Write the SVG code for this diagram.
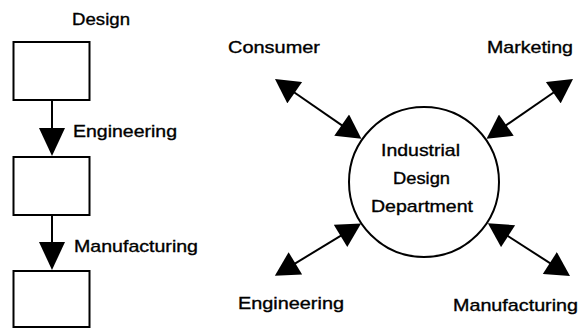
<svg xmlns="http://www.w3.org/2000/svg" width="581" height="329" viewBox="0 0 581 329">
  <style>
    .box { fill: #fff; stroke: #000; stroke-width: 2; }
    .hub { fill: #fff; stroke: #000; stroke-width: 2; }
    .lbl { font-family: "Liberation Sans", Arial, Helvetica, sans-serif; font-size: 17px; fill: #000; stroke: #000; stroke-width: 0.35; }
    .link { stroke: #000; stroke-width: 2; fill: none; }
  </style>
  <defs>
    <marker id="tri" markerUnits="userSpaceOnUse" markerWidth="26" markerHeight="26" viewBox="0 -13 24 26" refX="14" refY="0" orient="auto-start-reverse">
      <path d="M0,-13 L24,0 L0,13 Z" fill="#000"/>
    </marker>
    <marker id="triV" markerUnits="userSpaceOnUse" markerWidth="28" markerHeight="26" viewBox="0 -13 28 26" refX="18" refY="0" orient="auto">
      <path d="M0,-13 L28,0 L0,13 Z" fill="#000"/>
    </marker>
  </defs>

  <rect width="581" height="329" fill="#fff"/>

  <g id="connectors">
    <line class="link" x1="52" y1="100" x2="52" y2="146" marker-end="url(#triV)"/>
    <line class="link" x1="52" y1="215" x2="52" y2="260" marker-end="url(#triV)"/>
    <!-- Consumer -->
    <line class="link" x1="283.2" y1="84.7" x2="353.2" y2="133.1" marker-start="url(#tri)" marker-end="url(#tri)"/>
    <!-- Marketing -->
    <line class="link" x1="564.8" y1="84.7" x2="494.8" y2="133.1" marker-start="url(#tri)" marker-end="url(#tri)"/>
    <!-- Engineering -->
    <line class="link" x1="283.4" y1="270.6" x2="352.5" y2="228.6" marker-start="url(#tri)" marker-end="url(#tri)"/>
    <!-- Manufacturing -->
    <line class="link" x1="561.6" y1="270.6" x2="496.3" y2="228.6" marker-start="url(#tri)" marker-end="url(#tri)"/>
  </g>

  <g id="design-box">
    <text class="lbl" x="72" y="25" textLength="58" lengthAdjust="spacingAndGlyphs">Design</text>
    <rect class="box" x="13.5" y="42" width="76" height="58"/>
  </g>
  <g id="engineering-box">
    <text class="lbl" x="73" y="137" textLength="104" lengthAdjust="spacingAndGlyphs">Engineering</text>
    <rect class="box" x="13.5" y="157" width="76" height="58"/>
  </g>
  <g id="manufacturing-box">
    <text class="lbl" x="74" y="252" textLength="124" lengthAdjust="spacingAndGlyphs">Manufacturing</text>
    <rect class="box" x="13.5" y="271" width="76" height="56"/>
  </g>

  <g id="idd">
    <circle class="hub" cx="424" cy="182" r="75"/>
    <text class="lbl" x="381" y="156" textLength="79" lengthAdjust="spacingAndGlyphs">Industrial</text>
    <text class="lbl" x="393" y="184" textLength="57" lengthAdjust="spacingAndGlyphs">Design</text>
    <text class="lbl" x="371" y="212" textLength="102" lengthAdjust="spacingAndGlyphs">Department</text>
  </g>

  <g id="consumer">
    <text class="lbl" x="228" y="53" textLength="92" lengthAdjust="spacingAndGlyphs">Consumer</text>
  </g>
  <g id="marketing">
    <text class="lbl" x="487" y="53" textLength="86" lengthAdjust="spacingAndGlyphs">Marketing</text>
  </g>
  <g id="engineering">
    <text class="lbl" x="238" y="309" textLength="106" lengthAdjust="spacingAndGlyphs">Engineering</text>
  </g>
  <g id="manufacturing">
    <text class="lbl" x="453" y="311" textLength="125" lengthAdjust="spacingAndGlyphs">Manufacturing</text>
  </g>
</svg>
